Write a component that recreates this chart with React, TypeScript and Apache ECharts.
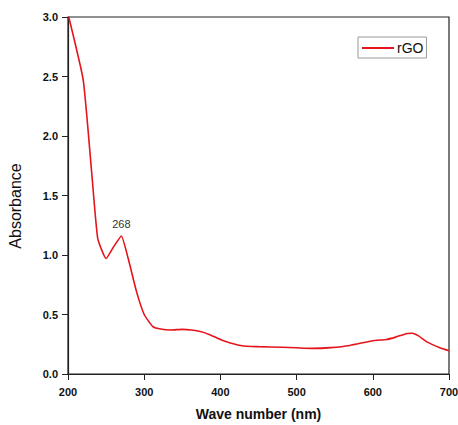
import React, { useEffect, useRef } from "react";
import * as echarts from "echarts";

const wavelengths = [201, 220, 231, 239, 250, 260, 270, 279, 290, 300, 311, 320, 335, 350, 362, 375, 386, 400, 413, 430, 450, 480, 500, 521, 545, 570, 600, 618, 630, 645, 652, 660, 671, 688, 700];
const absorbance = [3.0, 2.47, 1.7, 1.14, 0.97, 1.07, 1.16, 0.97, 0.69, 0.5, 0.4, 0.38, 0.37, 0.375, 0.37, 0.355, 0.33, 0.29, 0.26, 0.235, 0.23, 0.225, 0.22, 0.215, 0.222, 0.24, 0.28, 0.29, 0.31, 0.34, 0.343, 0.32, 0.27, 0.22, 0.195];
const peakIndex = 6;
const peakLabel = "268";
const seriesName = "rGO";
const xTicks = [200, 300, 400, 500, 600, 700];
const yTicks = [0, 0.5, 1.0, 1.5, 2.0, 2.5, 3.0];
const font = "Arial, 'Liberation Sans', sans-serif";

export default function App() {
  const ref = useRef<HTMLDivElement>(null);
  useEffect(() => {
    if (!ref.current) return;
    const chart = echarts.init(ref.current, undefined, { renderer: "svg" });
    const data = wavelengths.map((w, i) => [w, absorbance[i]]);
    chart.setOption({
      animation: false,
      backgroundColor: "#fff",
      grid: {
        left: 68, right: 9, top: 17, bottom: 51,
        show: true, borderColor: "#222", borderWidth: 1.2,
        containLabel: false, outerBoundsMode: "none",
      },
      legend: {
        data: [seriesName],
        left: 358,
        top: 37,
        borderColor: "#999",
        borderWidth: 1,
        borderRadius: 0,
        padding: [4, 3, 3, 4],
        itemWidth: 32,
        itemHeight: 2,
        icon: "rect",
        textStyle: { fontSize: 14, color: "#111", fontFamily: font, padding: [0, 0, 0, -2] },
      },
      graphic: [
        {
          type: "text",
          x: 15,
          y: 206,
          rotation: Math.PI / 2,
          style: { text: "Absorbance", fontSize: 16, fill: "#111", fontFamily: font, align: "center", verticalAlign: "middle" },
        },
      ],
      xAxis: {
        type: "value",
        min: xTicks[0],
        max: xTicks[xTicks.length - 1],
        interval: 100,
        name: "Wave number (nm)",
        nameLocation: "middle",
        nameGap: 33,
        nameTextStyle: { fontSize: 14, fontWeight: "bold", color: "#111", fontFamily: font },
        axisLine: { show: true, lineStyle: { color: "#222", width: 1.2 } },
        axisTick: { show: true, length: 6, lineStyle: { color: "#222" } },
        axisLabel: { fontSize: 11, fontWeight: "bold", color: "#111", margin: 12, fontFamily: font },
        splitLine: { show: false },
      },
      yAxis: {
        type: "value",
        min: yTicks[0],
        max: yTicks[yTicks.length - 1],
        interval: 0.5,
        axisLine: { show: true, lineStyle: { color: "#222", width: 1.2 } },
        axisTick: { show: true, length: 6, lineStyle: { color: "#222" } },
        axisLabel: { fontSize: 11, fontWeight: "bold", color: "#111", margin: 10, formatter: (v: number) => v.toFixed(1), fontFamily: font },
        splitLine: { show: false },
      },
      series: [
        {
          name: seriesName,
          type: "line",
          data,
          smooth: 0.15,
          showSymbol: false,
          symbol: "none",
          lineStyle: { color: "#e5141b", width: 1.6 },
          itemStyle: { color: "#e5141b" },
          markPoint: {
            symbol: "circle",
            symbolSize: 0,
            data: [
              {
                coord: [wavelengths[peakIndex], absorbance[peakIndex]],
                value: peakLabel,
                label: { show: true, formatter: peakLabel, position: "top", distance: 6, color: "#333", fontSize: 11, fontFamily: font },
              },
            ],
          },
        },
      ],
    });
    return () => chart.dispose();
  }, []);
  return <div ref={ref} style={{ width: 458, height: 425, position: "fixed", left: 0, top: 0 }} />;
}
